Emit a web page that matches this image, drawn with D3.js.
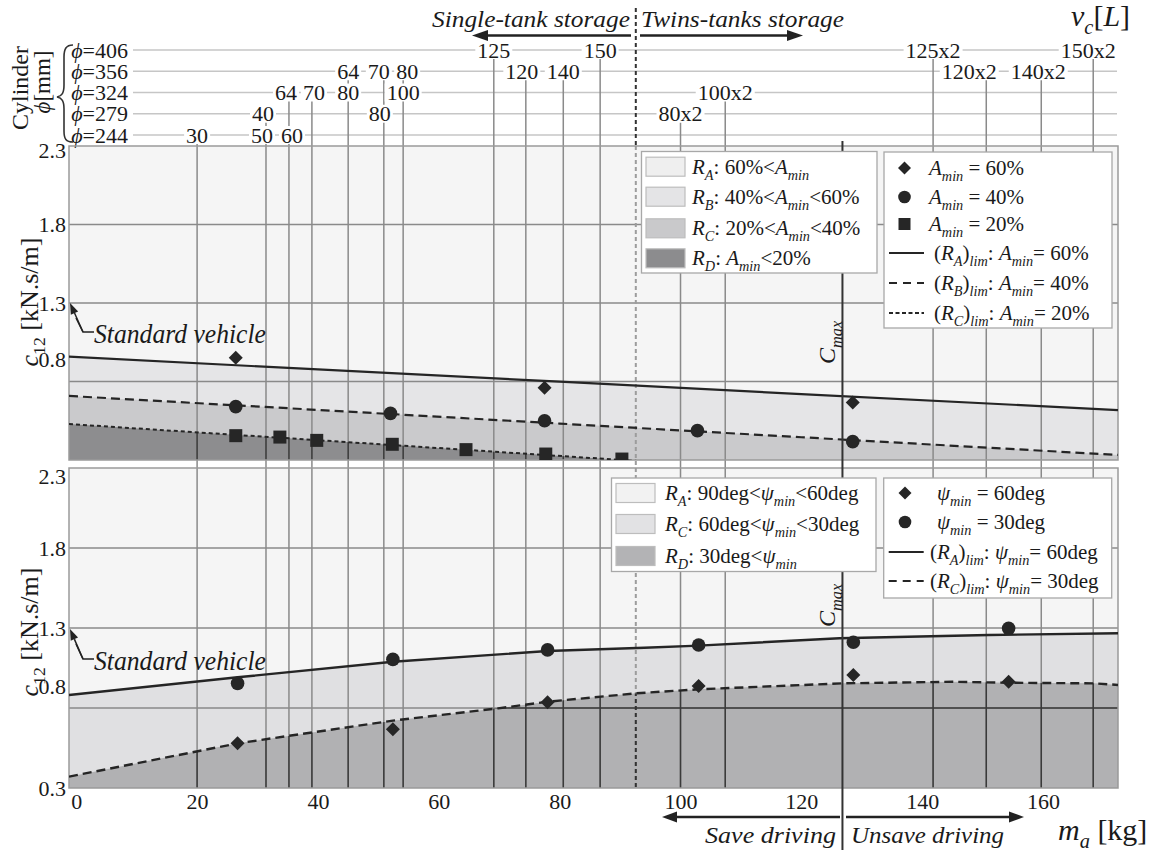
<!DOCTYPE html>
<html><head><meta charset="utf-8">
<script src="https://cdn.jsdelivr.net/npm/d3@7"></script>
<style>body{margin:0;background:#fff}svg{display:block}
svg text{font-family:"Liberation Serif","DejaVu Serif",serif}</style>
</head><body>
<svg id="c" width="1158" height="852"></svg>
<script>
// ---------------- DATA ----------------
const xTicks = [0,20,40,60,80,100,120,140,160];
const yTicks = [0.3,0.8,1.3,1.8,2.3];
const cylRows = ['406','356','324','279','244'];
// masses (kg) of the tank configurations (vertical lines)
const tankMass = [20,31.4,35.2,39.0,45.0,50.9,54.1,69.1,74.4,80.6,86.7,100.0,107.4,141.8,150.6,159.7,168.3];
// [label, cylinder row index, tank index]
const tankLabels = [
  ['30',4,0],['40',3,1],['50',4,1],['64',2,2],['60',4,2],['70',2,3],['64',1,4],['80',2,4],
  ['70',1,5],['80',3,5],['80',1,6],['100',2,6],['125',0,7],['120',1,8],['140',1,9],['150',0,10],
  ['80x2',3,11],['100x2',2,12],['125x2',0,13],['120x2',1,14],['140x2',1,15],['150x2',0,16]
];
const storageSplit = 92.6;
const cMax = 126.8;

// upper panel (A_min)
const upLimA = [[-1.2,0.958],[40,0.877],[80,0.799],[120,0.720],[172.4,0.618]];
const upLimB = [[-1.2,0.708],[40,0.619],[80,0.532],[120,0.445],[172.4,0.332]];
const upLimC = [[-1.2,0.529],[30,0.451],[60,0.376],[90.3,0.300],[95,0.288]];
const upDia = [[26.4,0.952],[77.5,0.760],[128.5,0.667]];
const upCir = [[26.4,0.640],[52.0,0.597],[77.5,0.550],[102.8,0.487],[128.5,0.417]];
const upSq  = [[26.4,0.455],[33.7,0.446],[39.8,0.425],[52.3,0.400],[64.5,0.366],[77.7,0.338],[90.3,0.306]];

// lower panel (psi_min)
const loLimA = [[-1.2,0.881],[26.7,0.992],[52.4,1.089],[78,1.156],[94,1.177],[103,1.190],[126.3,1.236],[151,1.256],[172.4,1.267]];
const loLimC = [[-1.2,0.371],[26.7,0.579],[52.4,0.721],[69.8,0.798],[78,0.839],[92.7,0.892],[103,0.917],[126.8,0.954],[145,0.964],[154,0.958],[168.5,0.954],[172.4,0.944]];
const loDia = [[26.7,0.579],[52.4,0.667],[78,0.836],[103,0.938],[128.6,1.006],[154.3,0.964]];
const loCir = [[26.7,0.954],[52.4,1.104],[78,1.163],[103,1.194],[128.6,1.211],[154.3,1.298]];

// legend texts: [text, style] style: i=italic, s=subscript
const upRegLegend = [
  [['R','i'],['A','is'],[': 60%<',''],['A','i'],['min','is']],
  [['R','i'],['B','is'],[': 40%<',''],['A','i'],['min','is'],['<60%','']],
  [['R','i'],['C','is'],[': 20%<',''],['A','i'],['min','is'],['<40%','']],
  [['R','i'],['D','is'],[': ',''],['A','i'],['min','is'],['<20%','']]
];
const upMarkLegend = [
  [['A','i'],['min','is'],[' = 60%','']],
  [['A','i'],['min','is'],[' = 40%','']],
  [['A','i'],['min','is'],[' = 20%','']],
  [['(',''],['R','i'],['A','is'],[')',''],['lim','is'],[': ',''],['A','i'],['min','is'],['= 60%','']],
  [['(',''],['R','i'],['B','is'],[')',''],['lim','is'],[': ',''],['A','i'],['min','is'],['= 40%','']],
  [['(',''],['R','i'],['C','is'],[')',''],['lim','is'],[': ',''],['A','i'],['min','is'],['= 20%','']]
];
const loRegLegend = [
  [['R','i'],['A','is'],[': 90deg<',''],['ψ','i'],['min','is'],['<60deg','']],
  [['R','i'],['C','is'],[': 60deg<',''],['ψ','i'],['min','is'],['<30deg','']],
  [['R','i'],['D','is'],[': 30deg<',''],['ψ','i'],['min','is']]
];
const loMarkLegend = [
  [['ψ','i'],['min','is'],[' = 60deg','']],
  [['ψ','i'],['min','is'],[' = 30deg','']],
  [['(',''],['R','i'],['A','is'],[')',''],['lim','is'],[': ',''],['ψ','i'],['min','is'],['= 60deg','']],
  [['(',''],['R','i'],['C','is'],[')',''],['lim','is'],[': ',''],['ψ','i'],['min','is'],['= 30deg','']]
];

// ---------------- LAYOUT ----------------
const FONT = '"Liberation Serif","DejaVu Serif",serif';
const svg = d3.select('#c').style('font-family', FONT);
const x  = d3.scaleLinear().domain([-1.2,172.4]).range([69,1118]);
const yU = d3.scaleLinear().domain([0.3,2.3]).range([460,146]);
const yL = d3.scaleLinear().domain([0.3,2.3]).range([788,468]);
const rowY = d3.scaleLinear().domain([0,4]).range([50,135]);
const labelNudge = {'40':-3,'50':-4,'60':3,'64@2':-3,'70@2':2,'70@1':-5,'80@3':-4,'80@1':4,'120':-4,'120x2':-17,'140x2':-3,'150x2':-5};

const colU = {A:'#f5f5f5',B:'#e5e5e7',C:'#cacacc',D:'#8d8d8f'};
const colL = {A:'#f5f5f5',C:'#e0e0e2',D:'#b1b1b3'};
const GRID = '#8a8a8a', DARK = '#262626';

const defs = svg.append('defs');
function clipRect(id, y0, y1){
  defs.append('clipPath').attr('id',id).append('rect')
    .attr('x',x.range()[0]).attr('y',y0).attr('width',x.range()[1]-x.range()[0]).attr('height',y1-y0);
}
clipRect('cu',146,460); clipRect('cl',468,788);

function rich(g, px, py, segs, size, anchor){
  const t = g.append('text').attr('x',px).attr('y',py).attr('font-size',size)
    .attr('text-anchor',anchor||'start').attr('fill','#1a1a1a');
  let off = 0;
  segs.forEach(([s,st])=>{
    const sub = st.includes('s');
    const target = sub ? size*0.28 : 0;
    const sp = t.append('tspan').text(s).attr('dy', (target-off).toFixed(2));
    off = target;
    if (sub) sp.attr('font-size', size*0.68);
    if (st.includes('i')) sp.attr('font-style','italic');
  });
  return t;
}
function arrow(g,x1,y1,x2,y2,hl,hw,sw){
  const a = Math.atan2(y2-y1,x2-x1);
  const bx = x2-hl*Math.cos(a), by = y2-hl*Math.sin(a);
  g.append('line').attr('x1',x1).attr('y1',y1).attr('x2',bx).attr('y2',by)
    .attr('stroke','#222').attr('stroke-width',sw);
  const px = -Math.sin(a)*hw/2, py = Math.cos(a)*hw/2;
  g.append('path').attr('d',`M${x2},${y2}L${bx+px},${by+py}L${bx-px},${by-py}Z`).attr('fill','#222');
}

// ---------------- FILLS ----------------
function areaUnder(y){ return d3.area().x(d=>x(d[0])).y0(y.range()[0]).y1(d=>y(d[1])); }
const gU = svg.append('g').attr('clip-path','url(#cu)');
gU.append('rect').attr('x',69).attr('y',146).attr('width',1049).attr('height',314).attr('fill',colU.A);
gU.append('path').attr('d',areaUnder(yU)(upLimA)).attr('fill',colU.B);
gU.append('path').attr('d',areaUnder(yU)(upLimB)).attr('fill',colU.C);
gU.append('path').attr('d',areaUnder(yU)(upLimC)).attr('fill',colU.D);

const gL = svg.append('g').attr('clip-path','url(#cl)');
gL.append('rect').attr('x',69).attr('y',468).attr('width',1049).attr('height',320).attr('fill',colL.A);
gL.append('path').attr('d',areaUnder(yL)(loLimA)).attr('fill',colL.C);
gL.append('path').attr('d',areaUnder(yL)(loLimC)).attr('fill',colL.D);

// RD clip paths
defs.append('clipPath').attr('id','rdu').append('path').attr('d',areaUnder(yU)(upLimC));
defs.append('clipPath').attr('id','rdl').append('path').attr('d',areaUnder(yL)(loLimC));

// ---------------- HEADER ROWS ----------------
const gH = svg.append('g');
cylRows.forEach((r,i)=>{
  gH.append('line').attr('x1',133).attr('x2',1117).attr('y1',rowY(i)).attr('y2',rowY(i))
    .attr('stroke','#c6c6c6').attr('stroke-width',1.6);
});

// ---------------- GRID ----------------
const topRow = tankMass.map((m,i)=>d3.min(tankLabels.filter(l=>l[2]===i),l=>l[1]));
const gG = svg.append('g');
tankMass.forEach((m,i)=>{
  gG.append('line').attr('x1',x(m)).attr('x2',x(m)).attr('y1',rowY(topRow[i])).attr('y2',788)
    .attr('stroke',GRID).attr('stroke-width',1.5);
});
[0.8,1.3,1.8].forEach(v=>{
  gG.append('line').attr('x1',69).attr('x2',1118).attr('y1',yU(v)).attr('y2',yU(v)).attr('stroke',GRID).attr('stroke-width',1.5);
  gG.append('line').attr('x1',69).attr('x2',1118).attr('y1',yL(v)).attr('y2',yL(v)).attr('stroke',GRID).attr('stroke-width',1.5);
});
// storage split dotted line
gG.append('line').attr('x1',x(storageSplit)).attr('x2',x(storageSplit)).attr('y1',146).attr('y2',788)
  .attr('stroke','#9c9c9c').attr('stroke-width',2).attr('stroke-dasharray','4,3');
gG.append('line').attr('x1',x(storageSplit)).attr('x2',x(storageSplit)).attr('y1',8).attr('y2',146)
  .attr('stroke','#333').attr('stroke-width',2).attr('stroke-dasharray','4,3');

// dark grid inside RD regions
[['rdu',yU,146,460],['rdl',yL,468,788]].forEach(([cid,y,t,b])=>{
  const g = svg.append('g').attr('clip-path',`url(#${cid})`);
  tankMass.forEach(m=>g.append('line').attr('x1',x(m)).attr('x2',x(m)).attr('y1',t).attr('y2',b).attr('stroke','#3a3a3a').attr('stroke-width',1.5));
  [0.8,1.3].forEach(v=>g.append('line').attr('x1',69).attr('x2',1118).attr('y1',y(v)).attr('y2',y(v)).attr('stroke','#3a3a3a').attr('stroke-width',1.5));
  g.append('line').attr('x1',x(storageSplit)).attr('x2',x(storageSplit)).attr('y1',t).attr('y2',b)
    .attr('stroke','#333').attr('stroke-width',2).attr('stroke-dasharray','4,3');
});

// plot borders
svg.append('rect').attr('x',69).attr('y',146).attr('width',1049).attr('height',314).attr('fill','none').attr('stroke','#9a9a9a').attr('stroke-width',1.5);
svg.append('rect').attr('x',69).attr('y',468).attr('width',1049).attr('height',320).attr('fill','none').attr('stroke','#9a9a9a').attr('stroke-width',1.5);

// ---------------- CURVES ----------------
function curve(g,y,data,dash,w){
  g.append('path').attr('d',d3.line().x(d=>x(d[0])).y(d=>y(d[1]))(data))
    .attr('fill','none').attr('stroke','#252525').attr('stroke-width',w).attr('stroke-dasharray',dash);
}
const cU = svg.append('g').attr('clip-path','url(#cu)');
curve(cU,yU,upLimA,null,2.2);
curve(cU,yU,upLimB,'9,5',2.2);
curve(cU,yU,upLimC,'4,3',2);
const cL = svg.append('g').attr('clip-path','url(#cl)');
curve(cL,yL,loLimA,null,2.4);
curve(cL,yL,loLimC,'9,5',2.4);

// Cmax line
svg.append('line').attr('x1',x(cMax)).attr('x2',x(cMax)).attr('y1',141).attr('y2',850)
  .attr('stroke','#333').attr('stroke-width',2);

// ---------------- MARKERS ----------------
const diamond = (cx,cy,r)=>`M${cx},${cy-r}L${cx+r},${cy}L${cx},${cy+r}L${cx-r},${cy}Z`;
function markers(g,y,data,type){
  data.forEach(d=>{
    const cx=x(d[0]), cy=y(d[1]);
    if(type==='d') g.append('path').attr('d',diamond(cx,cy,7)).attr('fill',DARK);
    else if(type==='c') g.append('circle').attr('cx',cx).attr('cy',cy).attr('r',6.8).attr('fill',DARK);
    else g.append('rect').attr('x',cx-6.5).attr('y',cy-6.5).attr('width',13).attr('height',13).attr('fill',DARK);
  });
}
markers(cU,yU,upDia,'d'); markers(cU,yU,upCir,'c'); markers(cU,yU,upSq,'s');
markers(cL,yL,loDia,'d'); markers(cL,yL,loCir,'c');

// ---------------- HEADER LABELS ----------------
cylRows.forEach((r,i)=>{
  rich(gH,128,rowY(i)+7.5,[['ϕ','i'],['='+r,'']],22,'end');
});
const gTL = svg.append('g');
tankLabels.forEach(([t,row,idx])=>{
  const nudge = labelNudge[t+'@'+row] ?? labelNudge[t] ?? 0;
  const cx = x(tankMass[idx]) + nudge;
  const g = gTL.append('g');
  const txt = g.append('text').attr('x',cx).attr('y',rowY(row)+7.5).attr('text-anchor','middle')
    .attr('font-size',22).attr('fill','#1a1a1a').style('font-family',FONT).text(t);
  const bb = txt.node().getBBox();
  g.insert('rect','text').attr('x',bb.x-2).attr('y',rowY(row)-9).attr('width',bb.width+4).attr('height',18).attr('fill','#fff');
});

// Cylinder title and brace
rich(svg.append('g').attr('transform','translate(28,88) rotate(-90)'),0,0,[['Cylinder','']],24,'middle');
rich(svg.append('g').attr('transform','translate(50,82) rotate(-90)'),0,0,[['ϕ','i'],['[mm]','']],23,'middle');
svg.append('path').attr('d','M73,45 C66,45 64,49 64,57 L64,85 C64,93 62,96 57,97 C62,98 64,101 64,109 L64,131 C64,139 66,142 73,142')
  .attr('fill','none').attr('stroke','#333').attr('stroke-width',1.6);

// storage labels & arrows
svg.append('text').attr('x',630).attr('y',27).attr('text-anchor','end').attr('font-size',23).attr('font-style','italic')
  .attr('textLength',198).attr('lengthAdjust','spacingAndGlyphs').attr('fill','#1a1a1a').text('Single-tank storage');
svg.append('text').attr('x',641).attr('y',27).attr('font-size',23).attr('font-style','italic')
  .attr('textLength',203).attr('lengthAdjust','spacingAndGlyphs').attr('fill','#1a1a1a').text('Twins-tanks storage');
arrow(svg,631,35.5,472,35.5,16,11,2.5);
arrow(svg,640,35.5,803,35.5,16,11,2.5);
rich(svg,1071,26,[['v','i'],['c','is'],['[',''],['L','i'],[']','']],30,'start');

// ---------------- AXES ----------------
function fmtAxis(g){
  g.select('.domain').remove();
  g.attr('font-family',null);
  g.selectAll('text').attr('font-size',22).attr('fill','#1a1a1a');
}
const axB = svg.append('g').attr('transform','translate(0,788)')
  .call(d3.axisBottom(x).tickValues(xTicks).tickSize(0).tickPadding(5).tickFormat(d3.format('d')));
fmtAxis(axB);
const axU = svg.append('g').attr('transform','translate(69,0)')
  .call(d3.axisLeft(yU).tickValues(yTicks.slice(1)).tickSize(0).tickPadding(3).tickFormat(d3.format('.1f')));
fmtAxis(axU);
const axL = svg.append('g').attr('transform','translate(69,0)')
  .call(d3.axisLeft(yL).tickValues(yTicks).tickSize(0).tickPadding(3).tickFormat(d3.format('.1f')));
fmtAxis(axL);
[axU,axL].forEach((ax,k)=>{
  ax.selectAll('.tick text').attr('transform',d=> d===0.8 ? 'translate(0,-22)' : d===2.3 ? `translate(0,${k?8:4})` : null);
});

// axis titles
rich(svg.append('g').attr('transform','translate(38,302) rotate(-90)'),0,0,[['c','i'],['12','s'],[' [kN.s/m]','']],26,'middle');
rich(svg.append('g').attr('transform','translate(38,632) rotate(-90)'),0,0,[['c','i'],['12','s'],[' [kN.s/m]','']],26,'middle');
rich(svg,1058,840,[['m','i'],['a','is'],[' [kg]','']],30,'start');

// driving arrows
arrow(svg,840,817,662,817,15,11,2.5);
arrow(svg,846,817,1024,817,15,11,2.5);
svg.append('text').attr('x',836).attr('y',843).attr('text-anchor','end').attr('font-size',24).attr('font-style','italic')
  .attr('textLength',131).attr('lengthAdjust','spacingAndGlyphs').attr('fill','#1a1a1a').text('Save driving');
svg.append('text').attr('x',851).attr('y',843).attr('font-size',24).attr('font-style','italic')
  .attr('textLength',153).attr('lengthAdjust','spacingAndGlyphs').attr('fill','#1a1a1a').text('Unsave driving');

// Standard vehicle annotations
[[303,343],[629,670]].forEach(([ay,by])=>{
  const g = svg.append('g');
  g.append('path').attr('d',`M94,${by-11}L83,${by-11}L76,${ay+15}`).attr('fill','none').attr('stroke','#222').attr('stroke-width',1.5);
  arrow(g,83,by-11,70,ay,11,8,1.5);
  g.append('text').attr('x',94).attr('y',by).attr('font-size',27).attr('font-style','italic')
    .attr('textLength',172).attr('lengthAdjust','spacingAndGlyphs').attr('fill','#1a1a1a').text('Standard vehicle');
});

// ---------------- LEGENDS ----------------
function regLegend(bx,by,bw,bh,items,cols,rows,sx,tx){
  const g = svg.append('g');
  g.append('rect').attr('x',bx).attr('y',by).attr('width',bw).attr('height',bh).attr('fill','#fff').attr('stroke','#a8a8a8').attr('stroke-width',1.3);
  items.forEach((it,i)=>{
    g.append('rect').attr('x',sx).attr('y',rows[i]-9.5).attr('width',39).attr('height',19).attr('fill',cols[i]).attr('stroke','#bdbdbd').attr('stroke-width',1.2);
    rich(g,tx,rows[i]+7,it,21,'start');
  });
}
function markLegend(bx,by,bw,bh,items,kinds,rows,mx,tx,tlx){
  const g = svg.append('g');
  g.append('rect').attr('x',bx).attr('y',by).attr('width',bw).attr('height',bh).attr('fill','#fff').attr('stroke','#a8a8a8').attr('stroke-width',1.3);
  items.forEach((it,i)=>{
    const k = kinds[i], cy = rows[i];
    if(k==='d') g.append('path').attr('d',diamond(mx,cy,6.5)).attr('fill',DARK);
    else if(k==='c') g.append('circle').attr('cx',mx).attr('cy',cy).attr('r',6.3).attr('fill',DARK);
    else if(k==='s') g.append('rect').attr('x',mx-6).attr('y',cy-6).attr('width',12).attr('height',12).attr('fill',DARK);
    else g.append('line').attr('x1',bx+5).attr('x2',bx+40).attr('y1',cy).attr('y2',cy).attr('stroke','#252525').attr('stroke-width',2)
      .attr('stroke-dasharray', k==='solid'?null : k==='dash'?'8,6':'4,2.5');
    rich(g, (k.length===1? tx : tlx), cy+7, it, 21, 'start');
  });
}
regLegend(641.5,151.5,235.5,121.5,upRegLegend,[ '#efefef','#e4e4e6','#c9c9cb','#8c8c8e'],[166.7,196.7,228.3,258.3],646,692);
markLegend(884,152,228,176,upMarkLegend,['d','c','s','solid','dash','dot'],[168,197,224,253,283,313],904.5,929,934);
regLegend(611.5,478,264.5,93.5,loRegLegend,['#f2f2f2','#e2e2e4','#b3b3b5'],[493,524,556],616,665);
markLegend(883.7,478,228,120,loMarkLegend,['d','c','solid','dash'],[493,522,552,581],905,937,930);

// Cmax labels (on top)
rich(svg.append('g').attr('transform','translate(835,364) rotate(-90)'),0,0,[['C','i'],['max','is']],24,'start');
rich(svg.append('g').attr('transform','translate(835,627) rotate(-90)'),0,0,[['C','i'],['max','is']],24,'start');

// enforce serif face on every text element
svg.selectAll('text').style('font-family', FONT);
</script>
</body></html>
